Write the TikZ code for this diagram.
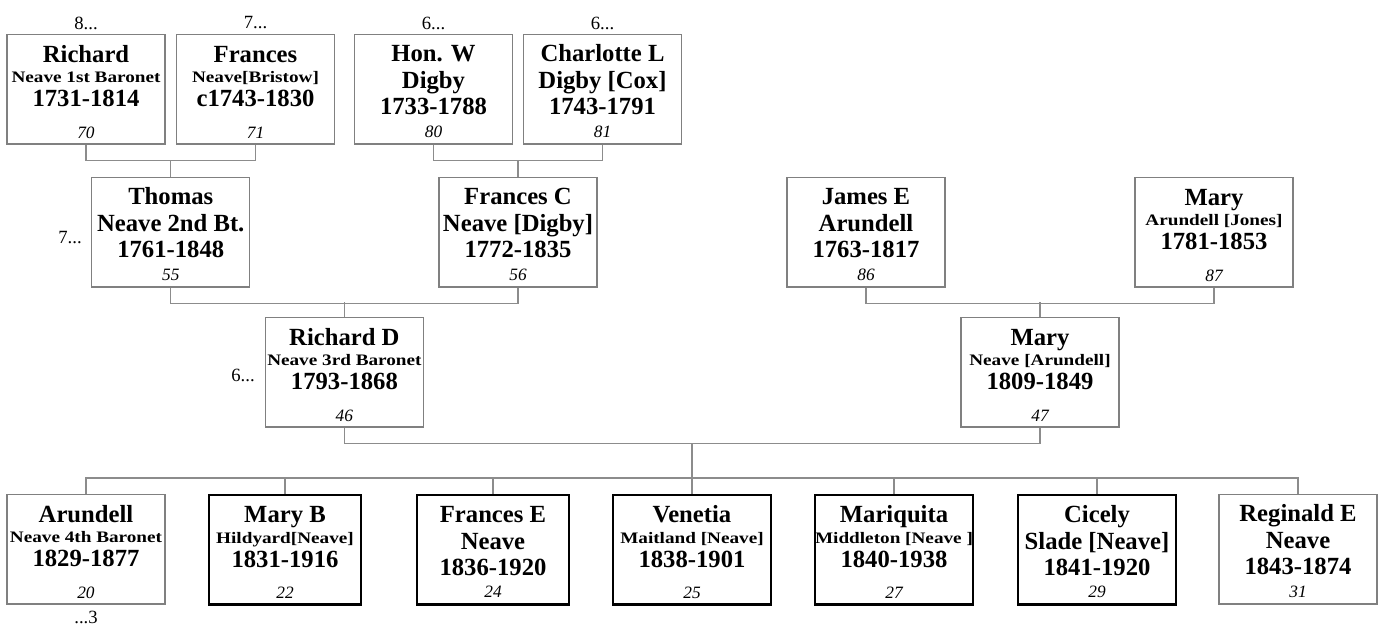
\documentclass[tikz,border=0pt]{standalone}
\usepackage{fontspec}
\setmainfont{Liberation Serif}
\usepackage{graphicx}
\usepackage{tikz}
\definecolor{boxgray}{RGB}{128,128,128}
\definecolor{linegray}{RGB}{140,140,140}
\tikzstyle{pbox} = [draw=boxgray, line width=1.1pt, rectangle, inner sep=0pt, anchor=north, fill=white]
\tikzstyle{bbox} = [pbox, draw=black, line width=1.8pt]
\tikzstyle{link} = [draw=linegray, line width=0.9pt]
\tikzstyle{gen} = [font=\fontsize{14}{16}\selectfont, inner sep=0pt]

\newcommand{\nmfont}{\fontsize{18.5}{20}\selectfont\bfseries}
\newcommand{\yrfont}{\fontsize{18.5}{20}\selectfont\bfseries}
\newcommand{\sbfont}{\fontsize{12}{14}\selectfont\bfseries}
\newcommand{\nofont}{\fontsize{13}{15}\selectfont\itshape}
% small second line
\newcommand{\persS}[5][118.5pt]{%
    \begin{minipage}[t][82pt][t]{#1}\offinterlineskip
        \centerline{\rule{0pt}{20.6pt}\smash{\nmfont #2}}
        \centerline{\rule{0pt}{15.4pt}\smash{\sbfont\scalebox{1.2}[1]{#3}}}
        \centerline{\rule{0pt}{18pt}\smash{\yrfont #4}}
        \centerline{\rule{0pt}{23.6pt}\smash{\nofont #5}}
    \end{minipage}}
% large second line
\newcommand{\persL}[5][118.5pt]{%
    \begin{minipage}[t][82pt][t]{#1}\offinterlineskip
        \centerline{\rule{0pt}{20.25pt}\smash{\nmfont #2}}
        \centerline{\rule{0pt}{20.25pt}\smash{\nmfont #3}}
        \centerline{\rule{0pt}{19.5pt}\smash{\yrfont #4}}
        \centerline{\rule{0pt}{16.9pt}\smash{\nofont #5}}
    \end{minipage}}

\begin{document}
\begin{tikzpicture}[x=0.75pt, y=-0.75pt]
    \useasboundingbox (0,0) rectangle (1380,629);

    % great-grandparents
    \node [pbox] (rich) at (86,34) {\persS{Richard}{Neave 1st Baronet}{1731-1814}{70}};
    \node [pbox] (fran) at (255.5,34) {\persS{Frances}{Neave[Bristow]}{c1743-1830}{71}};
    \node [pbox] (honw) at (433.5,34) {\persL{Hon. W}{Digby}{1733-1788}{80}};
    \node [pbox] (char) at (602.5,34) {\persL{Charlotte L}{Digby [Cox]}{1743-1791}{81}};
    \node [gen] (g8) at (86,23) {8...};
    \node [gen] (g7) at (255.5,23) {7...};
    \node [gen] (g6a) at (433.5,23) {6...};
    \node [gen] (g6b) at (602.5,23) {6...};

    % grandparents
    \node [pbox] (thom) at (170.75,177) {\persL{Thomas}{Neave 2nd Bt.}{1761-1848}{55}};
    \node [pbox] (franc) at (518,177) {\persL{Frances C}{Neave [Digby]}{1772-1835}{56}};
    \node [pbox] (jame) at (866,177) {\persL{James E}{Arundell}{1763-1817}{86}};
    \node [pbox] (maryj) at (1214,177) {\persS{Mary}{Arundell [Jones]}{1781-1853}{87}};
    \node [gen] (g7t) at (70,238) {7...};

    % parents
    \node [pbox] (richd) at (344.4,317) {\persS{Richard D}{Neave 3rd Baronet}{1793-1868}{46}};
    \node [pbox] (maryn) at (1040,317) {\persS{Mary}{Neave [Arundell]}{1809-1849}{47}};
    \node [gen] (g6r) at (243,375) {6...};

    % children
    \node [pbox] (arun) at (86,494) {\persS{Arundell}{Neave 4th Baronet}{1829-1877}{20}};
    \node [bbox] (maryb) at (285,494) {\persS[114pt]{Mary B}{Hildyard[Neave]}{1831-1916}{22}};
    \node [bbox] (frane) at (493,494) {\persL[114pt]{Frances E}{Neave}{1836-1920}{24}};
    \node [bbox] (vene) at (692,494) {\persS{Venetia}{Maitland [Neave]}{1838-1901}{25}};
    \node [bbox] (mari) at (894,494) {\persS{Mariquita}{Middleton [Neave ]}{1840-1938}{27}};
    \node [bbox] (cice) at (1097,494) {\persL{Cicely}{Slade [Neave]}{1841-1920}{29}};
    \node [pbox] (regi) at (1298,494) {\persL{Reginald E}{Neave}{1843-1874}{31}};
    \node [gen] (g3) at (86,617) {...3};

    % couples
    \draw [link] (rich.south) -- ++(0,16) -| (fran.south);
    \draw [link] (honw.south) -- ++(0,16) -| (char.south);
    \draw [link] (thom.north) -- ++(0,-17);
    \draw [link] (franc.north) -- ++(0,-17);
    \draw [link] (thom.south) -- ++(0,16) -| (franc.south);
    \draw [link] (jame.south) -- ++(0,16) -| (maryj.south);
    \draw [link] (richd.north) -- ++(0,-15);
    \draw [link] (maryn.north) -- ++(0,-15);
    \draw [link] (richd.south) -- ++(0,16) coordinate (pbar) -| (maryn.south);

    % children bar
    \draw [link] (arun.north) -- ++(0,-16) -| (regi.north);
    \foreach \c in {maryb,frane,mari,cice}
        \draw [link] (\c.north) -- ++(0,-16);
    \draw [link] (vene.north) -- (vene.north |- pbar);
\end{tikzpicture}
\end{document}
